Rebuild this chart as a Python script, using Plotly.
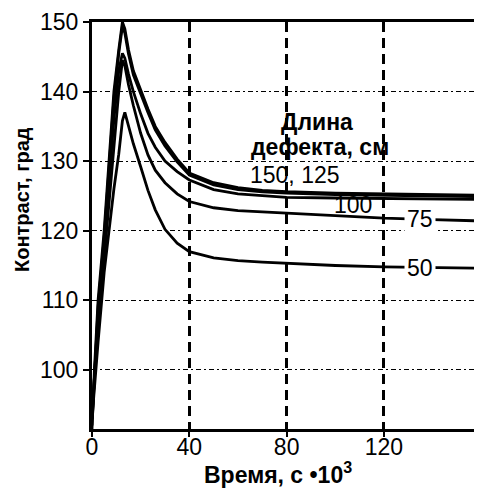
import plotly.graph_objects as go

# time, s*10^3
time = [0, 1, 2.5, 5, 7, 9, 11, 12.5, 13.5, 15, 17, 20, 23, 26, 30, 35, 40,
        50, 60, 70, 80, 100, 120, 140, 160]

# contrast, degrees, for defect length (cm)
c150 = [91.5, 100, 110, 120, 130, 140, 146, 150, 149, 146, 143, 140.2, 137.5,
        135, 132.7, 130.3, 128.3, 126.9, 126.2, 125.8, 125.6, 125.4, 125.3, 125.2, 125.1]
c125 = [92, 99.5, 109, 119, 129, 139, 145.5, 149.4, 148.4, 145.4, 142.4, 139.6, 137,
        134.5, 132.2, 129.9, 128.0, 126.6, 125.9, 125.6, 125.4, 125.2, 125.1, 125.0, 124.9]
c100 = [93, 99, 108, 118, 127, 136, 143, 145.5, 144.8, 142.5, 140, 136.8, 134,
        132, 130, 128.5, 127.3, 125.9, 125.3, 125.0, 124.8, 124.7, 124.6, 124.5, 124.5]
c75 = [93.5, 99, 107, 116, 124, 132, 140, 144.5, 143.7, 141, 138, 134, 130.9,
       128.7, 126.9, 125.3, 124.2, 123.3, 122.9, 122.7, 122.5, 122.1, 121.8, 121.6, 121.4]
c50 = [93, 98, 104, 114, 120, 126, 131, 135.8, 137, 135, 132.5, 129.2, 125.8,
       123.0, 120.2, 118.2, 117.0, 116.1, 115.7, 115.5, 115.3, 115.0, 114.8, 114.7, 114.6]

series = [("150", c150), ("125", c125), ("100", c100), ("75", c75), ("50", c50)]

xticks = [0, 40, 80, 120]
yticks = [100, 110, 120, 130, 140, 150]

FONT = "Liberation Sans, Arial, sans-serif"
FS = 23

fig = go.Figure()
for name, vals in series:
    fig.add_trace(go.Scatter(x=time, y=vals, mode="lines", name=name,
                             line=dict(color="black", width=2.8),
                             showlegend=False))

# page body has an 8px margin: shrink figure so plot area lands where reference has it
fig.update_layout(
    width=474, height=480,
    margin=dict(l=84, r=0, t=14, b=59),
    paper_bgcolor="white", plot_bgcolor="white",
    font=dict(family=FONT, size=FS, color="black"),
)
fig.update_xaxes(range=[0, 160.3], tickvals=xticks, ticks="outside", ticklen=5,
                 tickwidth=2, tickcolor="black", ticklabelstandoff=-10,
                 showline=True, linecolor="black", linewidth=3, mirror=True,
                 showgrid=True, gridcolor="black", gridwidth=2.5, griddash="10px,6px",
                 zeroline=False, tickfont=dict(size=FS))
fig.update_yaxes(range=[91.5, 150], tickvals=yticks, ticks="outside", ticklen=6,
                 tickwidth=2, tickcolor="black",
                 showline=True, linecolor="black", linewidth=3,
                 showgrid=True, gridcolor="black", gridwidth=1, griddash="5px,3px,2px,3px",
                 zeroline=False, tickfont=dict(size=FS))

anns = [
    dict(x=92.5, y=135.6, text="<b>Длина</b>", bg=None),
    dict(x=93.7, y=132.0, text="<b>дефекта, см</b>", bg=None),
    dict(x=83.4, y=128.0, text="150, 125", bg=None),
    dict(x=107.3, y=123.7, text="100", bg=None),
    dict(x=134.8, y=121.7, text="75", bg="white"),
    dict(x=134.8, y=114.7, text="50", bg="white"),
]
for a in anns:
    fig.add_annotation(x=a["x"], y=a["y"], xref="x", yref="y", text=a["text"],
                       showarrow=False, font=dict(size=FS, color="black"),
                       bgcolor=a["bg"] if a["bg"] else "rgba(0,0,0,0)",
                       borderpad=2)

fig.add_annotation(x=(278 - 92) / 390, y=-(490 - 429) / 407,
                   xref="paper", yref="paper", xanchor="center", yanchor="bottom",
                   text="<b>Время, с •10<sup>3</sup></b>", showarrow=False,
                   font=dict(size=FS, color="black"))
fig.add_annotation(x=-(92 - 22) / 390, y=(429 - 200) / 407,
                   xref="paper", yref="paper", xanchor="center", yanchor="middle",
                   text="<b>Контраст, град</b>", showarrow=False, textangle=-90,
                   font=dict(size=20, color="black"))

fig.write_html("out.html")
